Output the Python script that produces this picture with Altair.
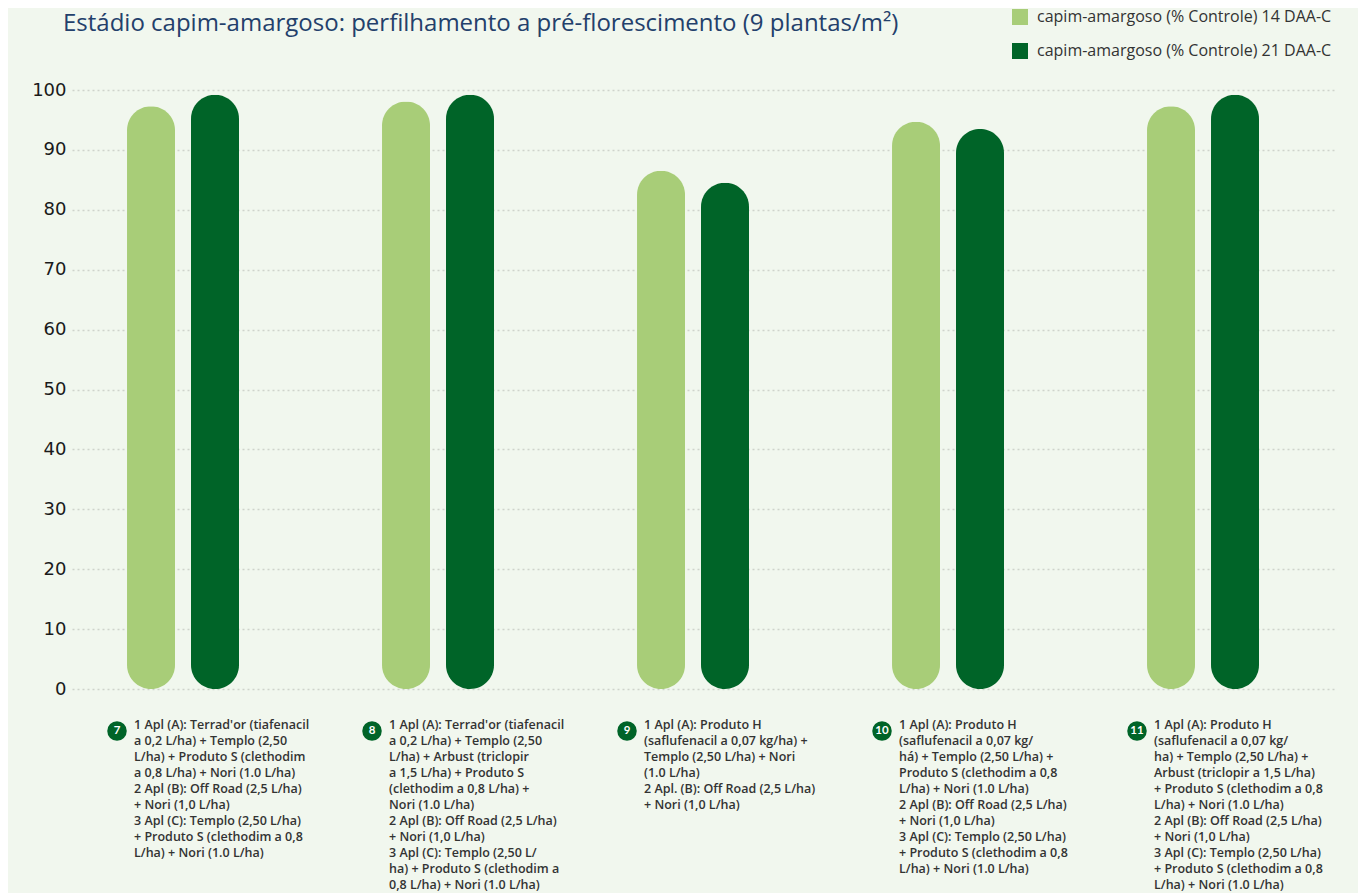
import altair as alt
import pandas as pd

groups = ["7", "8", "9", "10", "11"]
series = ["capim-amargoso (% Controle) 14 DAA-C", "capim-amargoso (% Controle) 21 DAA-C"]
vals_14 = [97.3, 98.1, 86.5, 94.7, 97.3]
vals_21 = [99.2, 99.2, 84.5, 93.5, 99.2]
labels = [
    "1 Apl (A): Terrad'or (tiafenacil\na 0,2 L/ha) + Templo (2,50\nL/ha) + Produto S (clethodim\na 0,8 L/ha) +  Nori (1.0 L/ha)\n2 Apl (B): Off Road (2,5 L/ha)\n+ Nori (1,0 L/ha)\n3 Apl (C): Templo (2,50 L/ha)\n+ Produto S (clethodim a 0,8\nL/ha) + Nori (1.0 L/ha)",
    "1 Apl (A): Terrad'or (tiafenacil\na 0,2 L/ha) + Templo (2,50\nL/ha) + Arbust (triclopir\na 1,5 L/ha) +  Produto S\n(clethodim a 0,8 L/ha) +\nNori (1.0 L/ha)\n 2 Apl (B): Off Road (2,5 L/ha)\n+ Nori (1,0 L/ha)\n 3 Apl (C): Templo (2,50 L/\nha) + Produto S (clethodim a\n0,8 L/ha) + Nori (1.0 L/ha)",
    " 1 Apl (A): Produto H\n(saflufenacil a 0,07 kg/ha) +\nTemplo (2,50 L/ha) +  Nori\n(1.0 L/ha)\n2 Apl. (B): Off Road (2,5 L/ha)\n+ Nori (1,0 L/ha)",
    "1 Apl (A): Produto H\n(saflufenacil a 0,07 kg/\nhá) + Templo (2,50 L/ha) +\nProduto S (clethodim a 0,8\nL/ha) +  Nori (1.0 L/ha)\n2 Apl (B): Off Road (2,5 L/ha)\n+ Nori (1,0 L/ha)\n3 Apl (C): Templo (2,50 L/ha)\n+ Produto S (clethodim a 0,8\nL/ha) + Nori (1.0 L/ha)",
    "1 Apl (A): Produto H\n(saflufenacil a 0,07 kg/\nha) + Templo (2,50 L/ha) +\nArbust (triclopir a 1,5 L/ha)\n+ Produto S (clethodim a 0,8\nL/ha) +  Nori (1.0 L/ha)\n2 Apl (B): Off Road (2,5 L/ha)\n+ Nori (1,0 L/ha)\n3 Apl (C): Templo (2,50 L/ha)\n+ Produto S (clethodim a 0,8\nL/ha) + Nori (1.0 L/ha)",
]
yticks = [0, 10, 20, 30, 40, 50, 60, 70, 80, 90, 100]
colors = ["#A8CD78", "#006428"]

bars_df = pd.DataFrame(
    [{"g": g, "s": series[0], "v": v} for g, v in zip(groups, vals_14)]
    + [{"g": g, "s": series[1], "v": v} for g, v in zip(groups, vals_21)]
)
lab_df = pd.DataFrame({"g": groups, "label": labels})

xscale = alt.Scale(domain=groups, paddingInner=0.2, paddingOuter=0.0745, align=0.237)
x = alt.X("g:N", scale=xscale, axis=None, sort=groups)

bars = alt.Chart(bars_df).mark_bar(width=48, cornerRadius=24).encode(
    x=x,
    xOffset=alt.XOffset("s:N", scale=alt.Scale(domain=series, paddingInner=0, paddingOuter=0.594)),
    y=alt.Y("v:Q", scale=alt.Scale(domain=[0, 100], nice=False),
            axis=alt.Axis(values=yticks, title=None, domain=False, ticks=False,
                          labelFontSize=18, labelColor="#1a1a1a", labelFont="DejaVu Sans",
                          labelPadding=6, gridColor="#cfd3cb", gridDash=[2, 3],
                          gridWidth=1.5)),
    color=alt.Color("s:N", scale=alt.Scale(domain=series, range=colors),
                    legend=alt.Legend(title=None, orient="none", legendX=940, legendY=-81,
                                      symbolType="square", symbolSize=256,
                                      symbolStrokeWidth=0, labelFontSize=16,
                                      labelFont="Open Sans", labelColor="#333333",
                                      labelOffset=9, rowPadding=18, padding=0,
                                      labelLimit=400)),
)

badges = alt.Chart(lab_df).mark_circle(size=380, opacity=1, color="#006428", xOffset=-66).encode(
    x=x, y=alt.value(641)
)
badge_txt = alt.Chart(lab_df).mark_text(dx=-66, color="white", fontSize=11.5, fontWeight="bold",
                                        font="Lato").encode(
    x=x, y=alt.value(641), text="g:N"
)
texts = alt.Chart(lab_df).mark_text(align="left", baseline="top", dx=-49, lineBreak="\n",
                                    lineHeight=16, fontSize=12.5, fontWeight=600,
                                    font="Open Sans", color="#333333").encode(
    x=x, y=alt.value(629), text="label:N"
)

chart = alt.layer(bars, badges, badge_txt, texts).properties(
    width=1262, height=599,
    autosize=alt.AutoSizeParams(type="none"),
    padding={"left": 64, "top": 82, "right": 24, "bottom": 204},
    background="#F1F7EE",
    title=alt.TitleParams(
        "Estádio capim-amargoso: perfilhamento a pré-florescimento (9 plantas/m²)",
        anchor="start", frame="group", font="Open Sans", fontSize=24,
        fontWeight="normal", color="#23406B", dx=-9, offset=-27),
).configure_view(stroke=None)

chart.save("out.html", embed_options={"renderer": "svg", "actions": False})
